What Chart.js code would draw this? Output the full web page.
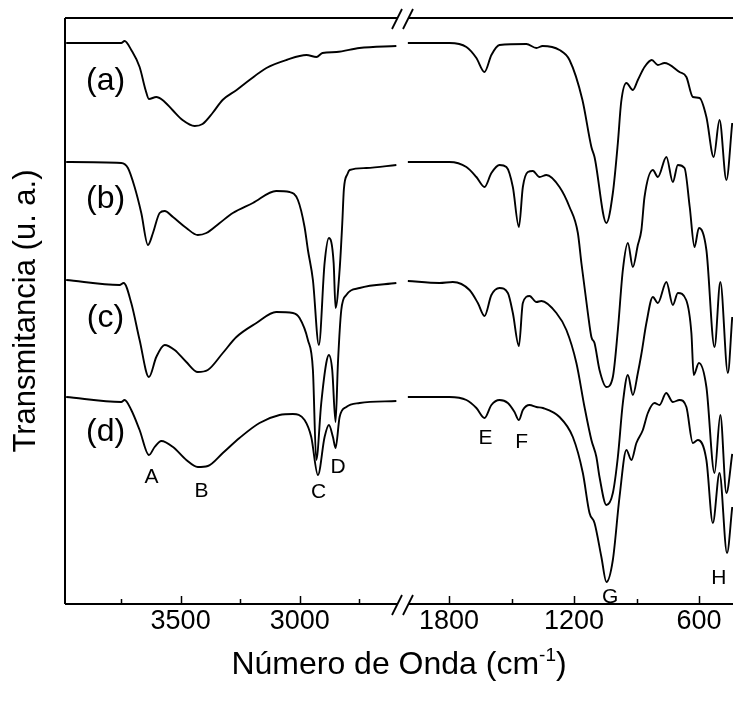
<!DOCTYPE html>
<html>
<head>
<meta charset="utf-8">
<script src="https://cdn.jsdelivr.net/npm/chart.js@4.4.0/dist/chart.umd.min.js"></script>
<style>
  html, body { margin: 0; padding: 0; background: #fff; }
</style>
</head>
<body>
<canvas id="ftirChart" width="733" height="703"></canvas>
<script>
// FTIR spectra (a)-(d): wavenumber (cm-1) and transmittance (arbitrary units)
const aWave = [3980, 3749, 3735, 3707, 3672, 3647, 3633, 3602, 3576, 3534, 3492, 3441, 3408, 3366, 3324, 3265, 3211, 3140, 3056, 2972, 2930, 2905, 2846, 2750, 2595,
  1998, 1798, 1717, 1669, 1630, 1597, 1558, 1429, 1381, 1351, 1270, 1222, 1160, 1117, 1102, 1045, 1014, 990, 974, 949, 918, 894, 862, 827, 798, 766, 694, 661, 630, 598, 565, 530, 502, 469, 441];
const aTrans = [561, 561, 563, 554, 537, 514, 505, 507, 504, 494, 484, 478, 480, 491, 504, 514, 524, 536, 544, 549, 547, 551, 552, 556, 558,
  561, 561, 557, 546, 532, 549, 559, 560, 556, 558, 554, 544, 504, 457, 447, 381, 411, 461, 502, 521, 514, 524, 537, 544, 539, 541, 532, 527, 507, 506, 487, 447, 484, 424, 481];

const bWave = [3980, 3749, 3721, 3693, 3665, 3637, 3616, 3588, 3567, 3532, 3476, 3428, 3392, 3336, 3281, 3197, 3099, 3043, 3008, 2980, 2966, 2945, 2920, 2896, 2878, 2858, 2850, 2833, 2822, 2815, 2800, 2791, 2721, 2595,
  1998, 1798, 1717, 1669, 1630, 1597, 1558, 1525, 1494, 1465, 1446, 1422, 1398, 1366, 1333, 1270, 1222, 1182, 1165, 1134, 1117, 1102, 1078, 1045, 1014, 990, 966, 942, 918, 894, 877, 862, 822, 798, 757, 726, 702, 670, 645, 622, 601, 565, 526, 498, 462, 441];
const bTrans = [442, 441, 436, 417, 391, 359, 371, 391, 393, 387, 376, 369, 371, 381, 391, 401, 413, 412, 404, 377, 354, 324, 259, 341, 366, 341, 296, 334, 380, 415, 430, 434, 436, 439,
  442, 442, 437, 427, 417, 431, 439, 437, 417, 377, 417, 432, 433, 427, 429, 417, 397, 371, 341, 291, 267, 261, 234, 217, 227, 274, 334, 361, 337, 359, 374, 407, 434, 427, 447, 422, 439, 436, 397, 357, 376, 354, 257, 322, 231, 287];

const cWave = [3980, 3756, 3739, 3707, 3672, 3633, 3602, 3567, 3525, 3476, 3428, 3386, 3323, 3266, 3182, 3099, 3029, 3001, 2966, 2945, 2931, 2910, 2889, 2878, 2864, 2850, 2840, 2826, 2805, 2749, 2595,
  1998, 1846, 1782, 1702, 1662, 1630, 1597, 1558, 1518, 1494, 1465, 1446, 1414, 1381, 1357, 1285, 1237, 1189, 1150, 1117, 1093, 1078, 1045, 1014, 990, 966, 942, 918, 894, 877, 853, 822, 798, 757, 726, 702, 662, 637, 626, 601, 565, 526, 498, 469, 441];
const cTrans = [324, 319, 321, 301, 264, 227, 247, 259, 254, 242, 232, 234, 251, 267, 281, 292, 291, 286, 264, 234, 144, 201, 241, 249, 234, 182, 241, 294, 309, 316, 321,
  323, 321, 322, 314, 301, 288, 309, 316, 311, 291, 258, 301, 308, 302, 303, 291, 274, 241, 197, 164, 147, 127, 99, 111, 147, 201, 229, 209, 231, 250, 281, 307, 301, 322, 299, 311, 304, 271, 229, 241, 217, 131, 189, 111, 150];

const dWave = [3980, 3749, 3735, 3707, 3672, 3633, 3609, 3581, 3532, 3476, 3428, 3386, 3323, 3253, 3169, 3085, 3029, 2980, 2952, 2924, 2896, 2878, 2861, 2850, 2833, 2805, 2749, 2595,
  1998, 1798, 1717, 1669, 1630, 1597, 1558, 1518, 1486, 1465, 1446, 1414, 1381, 1350, 1270, 1206, 1158, 1126, 1102, 1069, 1045, 1014, 982, 949, 925, 901, 870, 846, 814, 790, 758, 726, 694, 661, 630, 606, 565, 534, 502, 466, 441];
const dTrans = [207, 202, 204, 194, 174, 149, 157, 163, 157, 144, 137, 138, 151, 166, 181, 189, 190, 184, 167, 129, 167, 179, 167, 156, 187, 197, 201, 203,
  207, 207, 204, 196, 186, 199, 204, 201, 192, 184, 194, 199, 197, 196, 187, 167, 131, 91, 81, 47, 22, 44, 107, 154, 144, 161, 174, 191, 201, 199, 211, 202, 204, 197, 161, 164, 144, 81, 131, 51, 97];

const seriesNames = ['(a)', '(b)', '(c)', '(d)'];
const tickLabels = [3500, 3000, 1800, 1200, 600];
const minorTicks = [3750, 3250, 2750, 1500, 900];
const peakNames = ['A', 'B', 'C', 'D', 'E', 'F', 'G', 'H'];

// where the text annotations sit, in data units (wavenumber, transmittance)
const seriesLabelWave = 3815;
const seriesLabelTrans = [523, 405, 286, 172];
const peakLabelWave = [3622, 3412, 2921, 2839, 1625, 1452, 1027, 505];
const peakLabelTrans = [127, 113, 112, 137, 166, 162, 7, 26];

// broken axis: 3985..2590 on the left part, 2000..440 on the right part
function toU(w) {
  if (w > 2300) return (3985 - w) / 4.195;
  return 384.1 + (1800 - w) / 4.8;
}
const BREAK_U = 337;

function toPoints(waves, trans) {
  const pts = [];
  for (let i = 0; i < waves.length; i++) {
    if (i > 0 && waves[i - 1] > 2300 && waves[i] <= 2300) pts.push({ x: BREAK_U, y: null });
    pts.push({ x: toU(waves[i]), y: trans[i] });
  }
  return pts;
}

const FONT = '"Liberation Sans", Arial, Helvetica, sans-serif';

const framePlugin = {
  id: 'frame',
  afterDraw(chart) {
    const { ctx, chartArea: ca, scales: { x, y } } = chart;
    const bx = x.getPixelForValue(BREAK_U);
    ctx.save();
    ctx.strokeStyle = '#000';
    ctx.lineWidth = 2;
    ctx.lineCap = 'butt';
    // frame: left, top and bottom with the axis break
    ctx.beginPath();
    ctx.moveTo(ca.left, ca.top);
    ctx.lineTo(ca.left, ca.bottom);
    [ca.top, ca.bottom].forEach(yy => {
      ctx.moveTo(ca.left, yy);
      ctx.lineTo(bx - 5, yy);
      ctx.moveTo(bx + 6, yy);
      ctx.lineTo(ca.right, yy);
    });
    ctx.stroke();
    // the // marks
    ctx.lineWidth = 1.8;
    ctx.beginPath();
    [ca.top, ca.bottom].forEach(yy => {
      [-5, 6].forEach(dx => {
        ctx.moveTo(bx + dx - 5, yy + 11);
        ctx.lineTo(bx + dx + 5, yy - 9);
      });
    });
    ctx.stroke();
    // inward ticks on the bottom axis
    ctx.lineWidth = 1.5;
    ctx.beginPath();
    tickLabels.forEach(w => {
      const px = Math.round(x.getPixelForValue(toU(w))) + 0.5;
      ctx.moveTo(px, ca.bottom);
      ctx.lineTo(px, ca.bottom - 8);
    });
    minorTicks.forEach(w => {
      const px = Math.round(x.getPixelForValue(toU(w))) + 0.5;
      ctx.moveTo(px, ca.bottom);
      ctx.lineTo(px, ca.bottom - 5);
    });
    ctx.stroke();

    ctx.fillStyle = '#000';
    ctx.textAlign = 'center';
    ctx.textBaseline = 'middle';
    ctx.font = '32px ' + FONT;
    seriesNames.forEach((s, i) => {
      ctx.fillText(s, x.getPixelForValue(toU(seriesLabelWave)), y.getPixelForValue(seriesLabelTrans[i]));
    });
    ctx.font = '21px ' + FONT;
    peakNames.forEach((s, i) => {
      ctx.fillText(s, x.getPixelForValue(toU(peakLabelWave[i])), y.getPixelForValue(peakLabelTrans[i]));
    });

    // x axis title with superscript
    const main = 'Número de Onda (cm';
    const sup = '-1';
    const tail = ')';
    ctx.textAlign = 'left';
    ctx.textBaseline = 'alphabetic';
    ctx.font = '32px ' + FONT;
    const wMain = ctx.measureText(main).width;
    const wTail = ctx.measureText(tail).width;
    ctx.font = '19px ' + FONT;
    const wSup = ctx.measureText(sup).width;
    const total = wMain + wSup + wTail;
    let tx = 399 - total / 2;
    const base = 674;
    ctx.font = '32px ' + FONT;
    ctx.fillText(main, tx, base);
    ctx.font = '19px ' + FONT;
    ctx.fillText(sup, tx + wMain, base - 13);
    ctx.font = '32px ' + FONT;
    ctx.fillText(tail, tx + wMain + wSup, base);
    ctx.restore();
  }
};

new Chart(document.getElementById('ftirChart'), {
  type: 'line',
  data: {
    datasets: [
      { label: '(a)', data: toPoints(aWave, aTrans) },
      { label: '(b)', data: toPoints(bWave, bTrans) },
      { label: '(c)', data: toPoints(cWave, cTrans) },
      { label: '(d)', data: toPoints(dWave, dTrans) }
    ]
  },
  options: {
    responsive: false,
    animation: false,
    layout: { padding: { top: 18, right: 0, left: 0, bottom: 0 } },
    plugins: { legend: { display: false }, tooltip: { enabled: false } },
    elements: {
      point: { radius: 0 },
      line: { borderWidth: 1.9, borderColor: '#000', cubicInterpolationMode: 'monotone', fill: false }
    },
    scales: {
      x: {
        type: 'linear',
        min: 0,
        max: 668,
        afterFit(scale) { scale.height = 99; },
        afterBuildTicks(scale) { scale.ticks = tickLabels.map(w => ({ value: toU(w) })); },
        ticks: {
          callback: (v, i) => String(tickLabels[i]),
          font: { family: FONT, size: 27 },
          color: '#000',
          padding: 1,
          maxRotation: 0,
          autoSkip: false
        },
        grid: { display: false, drawTicks: false },
        border: { display: false }
      },
      y: {
        min: 0,
        max: 586,
        afterFit(scale) { scale.width = 65; },
        ticks: { display: false },
        grid: { display: false, drawTicks: false },
        border: { display: false },
        title: {
          display: true,
          text: 'Transmitancia (u. a.)',
          font: { family: FONT, size: 31 },
          color: '#000',
          padding: { top: 8 }
        }
      }
    }
  },
  plugins: [framePlugin]
});
</script>
</body>
</html>
